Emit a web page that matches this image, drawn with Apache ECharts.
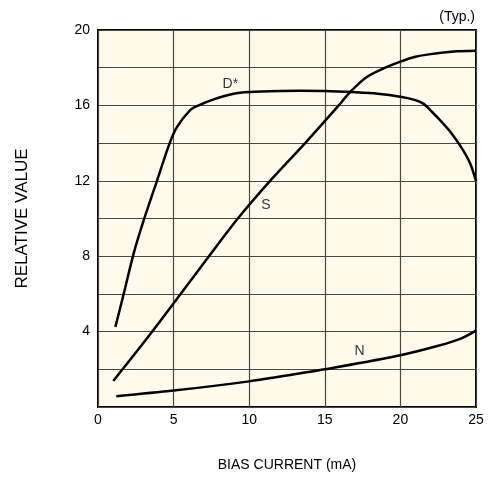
<!DOCTYPE html>
<html><head><meta charset="utf-8">
<script src="https://cdn.jsdelivr.net/npm/echarts@6/dist/echarts.min.js"></script>
<style>html,body{margin:0;padding:0;background:#fff}#c{width:494px;height:483px}</style>
</head><body><div id="c"></div>
<script>
const xTicks = [0, 5, 10, 15, 20, 25];
const yTickLabels = [4, 8, 12, 16, 20];
const dStar = [[1.15,4.25],[1.7,6.0],[2.36,8.15],[3.02,9.9],[3.9,12.0],[4.74,14.0],[5.22,14.85],[6.1,15.75],[6.66,16.0],[7.65,16.32],[8.97,16.62],[10,16.71],[12,16.77],[13.4,16.78],[15,16.77],[17,16.7],[18.5,16.62],[20,16.46],[21,16.28],[21.54,16.08],[22.1,15.65],[22.64,15.2],[23.4,14.5],[24.07,13.72],[24.6,12.95],[25,12.0]];
const sCurve = [[1.01,1.38],[3.59,4.0],[7.34,8.0],[9.3,10.05],[11.5,12.1],[13.7,14.0],[15.92,16.0],[16.7,16.73],[17.8,17.52],[19,18.0],[20,18.32],[21,18.58],[22,18.72],[23.5,18.86],[25,18.9]];
const nCurve = [[1.21,0.57],[5,0.87],[10,1.36],[13.2,1.76],[15,2.0],[20,2.75],[22.5,3.25],[24,3.63],[25,4.05]];
const curveLabels = [{name:'D*', value:[8.75,17.15]}, {name:'S', value:[11.1,10.7]}, {name:'N', value:[17.3,2.95]}];

const font = 'Liberation Sans, Arial, Helvetica, sans-serif';
const chart = echarts.init(document.getElementById('c'));
const line = (data) => ({type:'line', data, smooth:0.3, symbol:'none', lineStyle:{color:'#000', width:2.5}, z:5});
chart.setOption({
  animation:false,
  textStyle:{fontFamily:font},
  grid:{left:98, top:30, width:378, height:377, show:true, backgroundColor:'#fffbea', borderColor:'#000', borderWidth:2},
  xAxis:{type:'value', min:0, max:25, interval:5,
    name:'BIAS CURRENT (mA)', nameLocation:'middle', nameGap:51,
    nameTextStyle:{color:'#000', fontSize:14, fontFamily:font},
    axisLine:{show:false}, axisTick:{show:false},
    axisLabel:{color:'#000', fontSize:14, margin:6, fontFamily:font, formatter:v => xTicks.includes(v) ? String(v) : ''},
    splitLine:{show:true, lineStyle:{color:'#4a4a44', width:1.2}}},
  yAxis:{type:'value', min:0, max:20, interval:2,
    name:'RELATIVE VALUE', nameLocation:'middle', nameGap:67,
    nameTextStyle:{color:'#000', fontSize:17, fontFamily:font},
    axisLine:{show:false}, axisTick:{show:false},
    axisLabel:{color:'#000', fontSize:14, margin:8, fontFamily:font, formatter:v => yTickLabels.includes(v) ? String(v) : ''},
    splitLine:{show:true, lineStyle:{color:'#4a4a44', width:1.2}}},
  graphic:[{type:'text', right:19, top:10, style:{text:'(Typ.)', fill:'#000', font:'14px '+font}}],
  series:[line(dStar), line(sCurve), line(nCurve),
    {type:'scatter', data:curveLabels, symbolSize:0, z:6,
     label:{show:true, position:'inside', formatter:p => p.name, color:'#000', fontSize:14, fontFamily:font}}]
});
</script></body></html>
